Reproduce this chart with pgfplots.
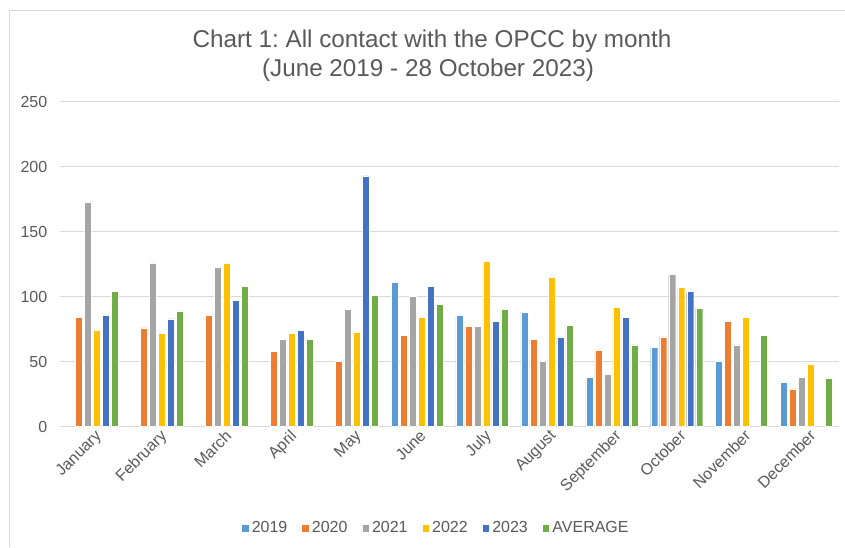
\documentclass[border=0pt]{standalone}
\usepackage{pgfplots}
\pgfplotsset{compat=1.18}
\usepackage{fontspec}
\setmainfont{Liberation Sans}
\frenchspacing
\definecolor{c19}{HTML}{5B9BD5}
\definecolor{c20}{HTML}{ED7D31}
\definecolor{c21}{HTML}{A5A5A5}
\definecolor{c22}{HTML}{FFC000}
\definecolor{c23}{HTML}{4472C4}
\definecolor{cavg}{HTML}{70AD47}
\definecolor{txt}{HTML}{595959}
\definecolor{grd}{HTML}{D9D9D9}
\begin{document}
\begin{tikzpicture}
\path[use as bounding box] (0pt,0pt) rectangle (633.75pt,-410.25pt);
\draw[grd, line width=0.75pt] (6.75pt,-410.25pt) -- (6.75pt,-7.5pt) -- (633.75pt,-7.5pt);
\node[anchor=base, text=txt, font=\fontsize{18.2pt}{21pt}\selectfont] at (324pt,-35.25pt) {Chart 1: All contact with the OPCC by month};
\node[anchor=base, text=txt, font=\fontsize{18.2pt}{21pt}\selectfont] at (321pt,-57.5pt) {(June 2019 - 28 October 2023)};
\begin{axis}[
  scale only axis,
  width=584.25pt, height=243.75pt,
  at={(45pt,-320pt)}, anchor=south west,
  ybar=1.5pt, bar width=5.25pt,
  xmin=-0.5, xmax=11.5, ymin=0, ymax=250,
  ytick={0,50,100,150,200,250},
  xtick={0,...,11},
  xticklabels={January,February,March,April,May,June,July,August,September,October,November,December},
  x tick label style={rotate=45, anchor=north east, font=\fontsize{12pt}{14pt}\selectfont, text=txt, xshift=2pt, yshift=0pt, inner sep=2pt},
  y tick label style={font=\fontsize{12pt}{14pt}\selectfont, text=txt},
  /pgf/number format/assume math mode=true,
  major tick length=0pt,
  axis line style={draw=none},
  ymajorgrids, grid style={grd, line width=0.75pt},
  yticklabel style={xshift=-6pt},
  legend style={at={(0.483,-0.312)}, anchor=center, draw=none, legend columns=-1,
    font=\fontsize{12pt}{14pt}\selectfont, text=txt, inner sep=1pt,
    /tikz/every even column/.append style={column sep=8.5pt}},
  legend image code/.code={\fill[#1] (0pt,-2.8pt) rectangle (5.6pt,2.8pt);},
  every axis plot/.append style={draw=white, line width=0.3pt},
]
\addplot[fill=c19] coordinates {(5,111) (6,86) (7,88) (8,38) (9,61) (10,50) (11,34)};
\addplot[fill=c20] coordinates {(0,84) (1,76) (2,86) (3,58) (4,50) (5,70) (6,77) (7,67) (8,59) (9,69) (10,81) (11,29)};
\addplot[fill=c21] coordinates {(0,173) (1,126) (2,123) (3,67) (4,90) (5,100) (6,77) (7,50) (8,40) (9,117) (10,63) (11,38)};
\addplot[fill=c22] coordinates {(0,74) (1,72) (2,126) (3,72) (4,73) (5,84) (6,127) (7,115) (8,92) (9,107) (10,84) (11,48)};
\addplot[fill=c23] coordinates {(0,86) (1,83) (2,97) (3,74) (4,193) (5,108) (6,81) (7,69) (8,84) (9,104)};
\addplot[fill=cavg] coordinates {(0,104) (1,89) (2,108) (3,67) (4,101) (5,94) (6,90) (7,78) (8,63) (9,91) (10,70) (11,37)};
\legend{2019,2020,2021,2022,2023,AVERAGE}
\end{axis}
\end{tikzpicture}
\end{document}
